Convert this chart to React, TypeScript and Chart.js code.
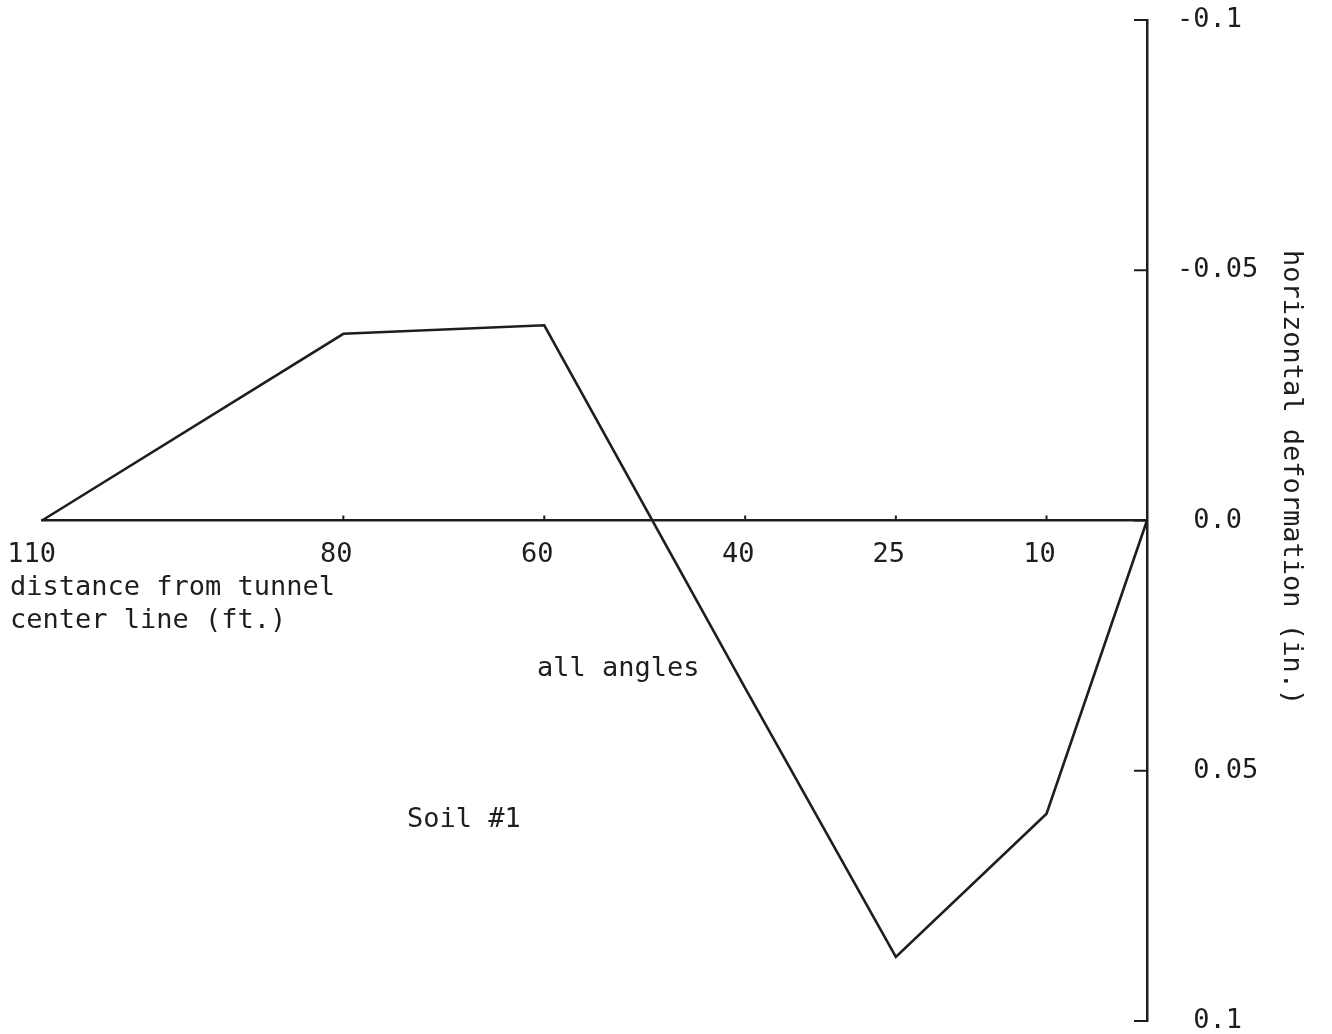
import React, { useEffect, useRef } from "react";
import { Chart, registerables } from "chart.js";

Chart.register(...registerables);

// Distance from the tunnel centre line (ft.) and horizontal deformation (in.)
const distanceFt = [110, 80, 60, 40, 25, 10, 0];
const deformationIn = [0, -0.0373, -0.039, 0.0335, 0.0872, 0.0586, 0];

const xTickValues = [110, 80, 60, 40, 25, 10];
const xTickLabels = ["110", "80", "60", "40", "25", "10"];
const yTickValues = [-0.1, -0.05, 0, 0.05, 0.1];
const yTickLabels = ["-0.1", "-0.05", "0.0", "0.05", "0.1"];

const xTitleLines = ["distance from tunnel", "center line (ft.)"];
const yTitle = "horizontal deformation (in.)";
const notes = [
  { text: "all angles", x: 537, y: 676 },
  { text: "Soil #1", x: 407, y: 827 },
];

const INK = "#1e1e1e";
const FONT = "27px 'DejaVu Sans Mono', monospace";

const annotate = {
  id: "annotate",
  afterDraw(chart: any) {
    const { ctx, chartArea } = chart;
    const xs = chart.scales.x;
    const ys = chart.scales.y;
    const y0 = ys.getPixelForValue(0);
    ctx.save();
    ctx.strokeStyle = INK;
    ctx.fillStyle = INK;
    ctx.lineWidth = 2;

    // inward tick marks on the deformation axis
    yTickValues.forEach((v) => {
      const py = ys.getPixelForValue(v);
      ctx.beginPath();
      ctx.moveTo(chartArea.right - 13, py);
      ctx.lineTo(chartArea.right, py);
      ctx.stroke();
    });

    // short upward ticks on the distance axis
    xTickValues.forEach((v) => {
      if (v === 110) return;
      const px = xs.getPixelForValue(v);
      ctx.beginPath();
      ctx.moveTo(px, y0 - 5);
      ctx.lineTo(px, y0);
      ctx.stroke();
    });

    ctx.font = FONT;
    ctx.textBaseline = "alphabetic";

    // distance labels
    xTickValues.forEach((v, i) => {
      const px = xs.getPixelForValue(v);
      if (v === 110) {
        ctx.textAlign = "right";
        ctx.fillText(xTickLabels[i], px + 14, y0 + 41);
      } else {
        ctx.textAlign = "center";
        ctx.fillText(xTickLabels[i], px - 7, y0 + 41);
      }
    });

    // distance axis title
    ctx.textAlign = "left";
    xTitleLines.forEach((line, i) => {
      ctx.fillText(line, 10, 595 + i * 33);
    });

    // notes inside the plot
    notes.forEach((n) => ctx.fillText(n.text, n.x, n.y));

    // deformation axis title, reading downward
    ctx.translate(1284, 250);
    ctx.rotate(Math.PI / 2);
    ctx.textAlign = "left";
    ctx.fillText(yTitle, 0, 0);
    ctx.restore();
  },
};

export default function App() {
  const ref = useRef<HTMLCanvasElement | null>(null);

  useEffect(() => {
    if (!ref.current) return;
    const chart = new Chart(ref.current, {
      type: "line",
      data: {
        datasets: [
          {
            data: distanceFt.map((d, i) => ({ x: d, y: deformationIn[i] })),
            borderColor: INK,
            borderWidth: 2.6,
            pointRadius: 0,
            tension: 0,
            fill: false,
            clip: false as any,
          },
        ],
      },
      options: {
        responsive: false,
        animation: false,
        layout: { padding: { left: 42, top: 20, bottom: 13, right: 0 } },
        plugins: {
          legend: { display: false },
          tooltip: { enabled: false },
        },
        scales: {
          x: {
            type: "linear",
            min: 0,
            max: 110,
            reverse: true,
            position: { y: 0 } as any,
            afterBuildTicks: (s: any) => {
              s.ticks = xTickValues.map((value) => ({ value }));
            },
            afterFit: (s: any) => {
              s.paddingLeft = 0;
              s.paddingRight = 0;
            },
            ticks: { display: false },
            grid: { display: false, drawTicks: false },
            border: { display: true, color: INK, width: 2.5 },
          },
          y: {
            type: "linear",
            position: "right",
            min: -0.1,
            max: 0.1,
            reverse: true,
            afterBuildTicks: (s: any) => {
              s.ticks = yTickValues.map((value) => ({ value }));
            },
            afterFit: (s: any) => {
              s.width = 185;
              s.paddingTop = 0;
              s.paddingBottom = 0;
            },
            ticks: {
              color: INK,
              font: { family: "'DejaVu Sans Mono', monospace", size: 27 },
              crossAlign: "near",
              padding: 30,
              callback: (v: any) => {
                const i = yTickValues.findIndex((t) => Math.abs(t - Number(v)) < 1e-9);
                if (i < 0) return "";
                const label = yTickLabels[i];
                return label.startsWith("-") ? label : " " + label;
              },
            },
            grid: { display: false, drawTicks: false },
            border: { display: true, color: INK, width: 2.5 },
          },
        },
      },
      plugins: [annotate],
    });
    return () => chart.destroy();
  }, []);

  return (
    <div
      style={{
        position: "absolute",
        left: 0,
        top: 0,
        width: 1332,
        height: 1034,
        background: "#fff",
      }}
    >
      <canvas ref={ref} width={1332} height={1034} />
    </div>
  );
}
